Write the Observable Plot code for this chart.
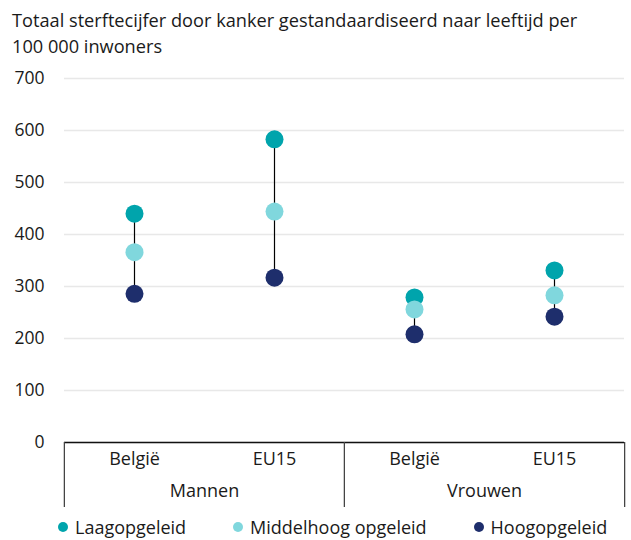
<!DOCTYPE html>
<html><head><meta charset="utf-8">
<script src="https://cdn.jsdelivr.net/npm/d3@7"></script>
<script src="https://cdn.jsdelivr.net/npm/@observablehq/plot@0.6"></script>
<style>
body{margin:0;background:#fff;font-family:"Open Sans",sans-serif;color:#1a1a1a;}
#title{font-size:18.2px;line-height:26px;padding:7px 0 0 12px;height:52px;box-sizing:content-box;white-space:nowrap;}
#legend{display:flex;gap:47px;padding-left:58px;font-size:18px;line-height:26px;height:26px;}
.item{display:flex;align-items:center;gap:7px}
.sw{width:10px;height:10px;border-radius:50%;display:inline-block}
</style></head><body>
<div id="title">Totaal sterftecijfer door kanker gestandaardiseerd naar leeftijd per<br>100 000 inwoners</div>
<div id="chart"></div>
<div id="legend"></div>
<script>
const genders = ["Mannen", "Mannen", "Vrouwen", "Vrouwen"];
const countries = ["België", "EU15", "België", "EU15"];
const laag = [440, 583, 279, 331];
const middel = [366, 444, 256, 283];
const hoog = [286, 317, 208, 242];
const levels = ["Laagopgeleid", "Middelhoog opgeleid", "Hoogopgeleid"];
const colors = ["#00A4AC", "#80D7DD", "#1E2E6C"];
const yTicks = [0, 100, 200, 300, 400, 500, 600, 700];

const W = 631, H = 455, mL = 63, mR = 7, mT = 19, mB = 72;
const bw = (W - mL - mR) / 4;

const rows = genders.map((g, i) => ({gender: g, country: countries[i], laag: laag[i], middel: middel[i], hoog: hoog[i]}));
const pts = rows.flatMap(r => levels.map((l, k) => ({gender: r.gender, country: r.country, level: l, value: [r.laag, r.middel, r.hoog][k]})));
const genderList = [...new Set(genders)];
const countryList = [...new Set(countries)];

const plot = Plot.plot({
  width: W, height: H, marginLeft: mL, marginRight: mR, marginTop: mT, marginBottom: mB,
  style: {fontFamily: "Open Sans", fontSize: "18px", color: "#1a1a1a", background: "#fff", overflow: "visible"},
  fx: {domain: genderList, padding: 0, axis: null},
  x: {type: "band", domain: countryList, padding: 0, axis: null},
  y: {domain: [0, 700], axis: null},
  color: {domain: levels, range: colors},
  marks: [
    Plot.gridY(yTicks, {stroke: "#e8e8e8", strokeOpacity: 1, strokeWidth: 1.5}),
    Plot.axisY(yTicks, {tickSize: 0, tickPadding: 20, fontSize: 17.5, fill: "#1a1a1a"}),
    Plot.ruleY([0], {stroke: "#111", strokeWidth: 1.3}),
    Plot.ruleX(genderList, {fx: d => d, x: () => countryList[0], dx: -bw / 2, y1: () => 0, y2: () => 0, insetBottom: -65, stroke: "#444", strokeWidth: 1.3}),
    Plot.ruleX(genderList.slice(-1), {fx: d => d, x: () => countryList[countryList.length - 1], dx: bw / 2, y1: () => 0, y2: () => 0, insetBottom: -65, stroke: "#444", strokeWidth: 1.3}),
    Plot.ruleX(rows, {fx: "gender", x: "country", y1: "laag", y2: "hoog", stroke: "#000", strokeWidth: 1.2}),
    Plot.dot(pts, {fx: "gender", x: "country", y: "value", fill: "level", r: 9}),
    Plot.text(rows, {fx: "gender", x: "country", text: "country", frameAnchor: "bottom", dy: 22, fontSize: 18, fill: "#1a1a1a"}),
    Plot.text(genderList, {fx: d => d, text: d => d, frameAnchor: "bottom", dy: 54, fontSize: 18, fill: "#1a1a1a"})
  ]
});
document.getElementById("chart").appendChild(plot);

const lg = document.getElementById("legend");
levels.forEach((l, i) => {
  const it = document.createElement("span");
  it.className = "item";
  const sw = document.createElement("span");
  sw.className = "sw";
  sw.style.background = colors[i];
  const tx = document.createElement("span");
  tx.textContent = l;
  it.appendChild(sw); it.appendChild(tx);
  lg.appendChild(it);
});
</script>
</body></html>
